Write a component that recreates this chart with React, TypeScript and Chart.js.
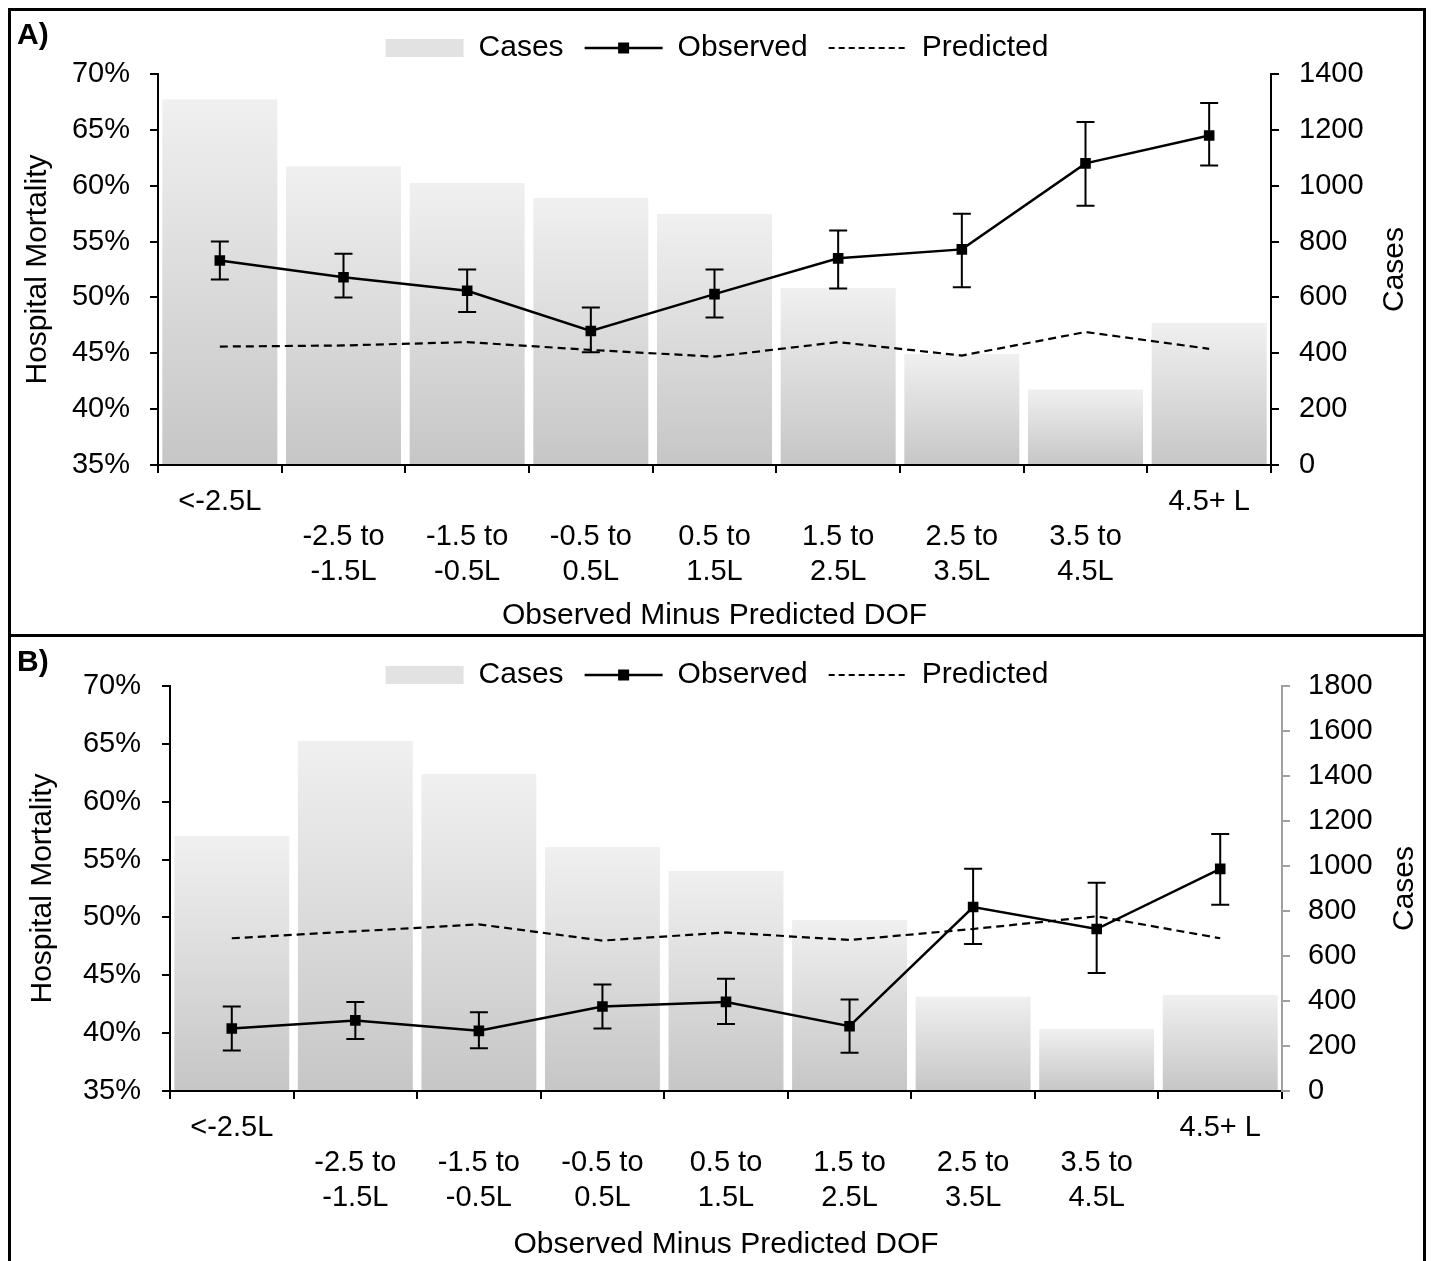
import React, { useEffect, useRef } from "react";
import { Chart, registerables } from "chart.js";

Chart.register(...registerables);

const FONT = '"Liberation Sans", Arial, Helvetica, sans-serif';

// Category labels (3 lines each, Excel-style staggering)
const xLabels: string[][] = [
  ["<-2.5L", "", ""],
  ["", "-2.5 to", "-1.5L"],
  ["", "-1.5 to", "-0.5L"],
  ["", "-0.5 to", "0.5L"],
  ["", "0.5 to", "1.5L"],
  ["", "1.5 to", "2.5L"],
  ["", "2.5 to", "3.5L"],
  ["", "3.5 to", "4.5L"],
  ["4.5+ L", "", ""],
];

// Panel A
const casesA = [1310, 1070, 1010, 956, 899, 634, 397, 270, 508];
const observedA = [53.3, 51.8, 50.6, 47.0, 50.3, 53.5, 54.3, 62.0, 64.5];
const observedLowA = [51.6, 50.0, 48.7, 45.1, 48.2, 50.8, 50.9, 58.2, 61.8];
const observedHighA = [55.0, 53.9, 52.5, 49.1, 52.5, 56.0, 57.5, 65.7, 67.4];
const predictedA = [45.6, 45.7, 46.0, 45.3, 44.7, 46.0, 44.8, 46.9, 45.4];

// Panel B
const casesB = [1133, 1556, 1409, 1084, 978, 760, 419, 276, 427];
const observedB = [40.4, 41.1, 40.2, 42.3, 42.7, 40.6, 50.9, 49.0, 54.2];
const observedLowB = [38.5, 39.5, 38.7, 40.4, 40.8, 38.3, 47.7, 45.2, 51.1];
const observedHighB = [42.3, 42.7, 41.8, 44.2, 44.7, 42.9, 54.2, 53.0, 57.2];
const predictedB = [48.2, 48.8, 49.4, 48.0, 48.7, 48.05, 49.0, 50.1, 48.2];

const mortalityTicks = { min: 35, max: 70, step: 5 };
const casesMaxA = 1400;
const casesMaxB = 1800;
const casesStep = 200;

type PanelProps = {
  letter: string;
  cases: number[];
  observed: number[];
  low: number[];
  high: number[];
  predicted: number[];
  casesMax: number;
  canvasH: number;
  chartTop: number;
  xHeight: number;
  leftW: number;
  rightW: number;
  legendCenter: number;
  yTitlePad: number;
  rightTitleX: number;
  tickPadL: number;
  tickPadR: number;
  rightAxisColor: string;
  letterY: number;
  borderTop: boolean;
};

const CANVAS_W = 1412;
const LEGEND_PAD = 21;
const LEGEND_FONT = 30;

function Panel(p: PanelProps) {
  const ref = useRef<HTMLCanvasElement | null>(null);

  useEffect(() => {
    if (!ref.current) return;
    const legendHeight = LEGEND_FONT + LEGEND_PAD + 10;
    const padTop = p.chartTop - legendHeight;

    const extras = {
      id: "panelExtras",
      afterLayout(chart: any) {
        const l = chart.legend;
        if (!l) return;
        const cur = l.top + LEGEND_PAD + LEGEND_FONT / 2;
        const dy = p.legendCenter - cur;
        l.top += dy;
        l.bottom += dy;
      },
      afterDatasetsDraw(chart: any) {
        const ctx = chart.ctx;
        const meta = chart.getDatasetMeta(1);
        const ys = chart.scales.y;
        ctx.save();
        ctx.strokeStyle = "#000";
        ctx.lineWidth = 2;
        meta.data.forEach((pt: any, i: number) => {
          const x = pt.x;
          const yl = ys.getPixelForValue(p.low[i]);
          const yh = ys.getPixelForValue(p.high[i]);
          ctx.beginPath();
          ctx.moveTo(x, yh);
          ctx.lineTo(x, yl);
          ctx.moveTo(x - 9, yh);
          ctx.lineTo(x + 9, yh);
          ctx.moveTo(x - 9, yl);
          ctx.lineTo(x + 9, yl);
          ctx.stroke();
        });
        ctx.restore();
      },
      afterDraw(chart: any) {
        const ctx = chart.ctx;
        const area = chart.chartArea;
        ctx.save();
        ctx.fillStyle = "#000";
        ctx.font = `bold 30px ${FONT}`;
        ctx.textAlign = "left";
        ctx.textBaseline = "middle";
        ctx.fillText(p.letter, 6, p.letterY);
        // right axis title, rotated like the left one
        ctx.translate(p.rightTitleX, (area.top + area.bottom) / 2);
        ctx.rotate(-Math.PI / 2);
        ctx.textAlign = "center";
        ctx.font = `30px ${FONT}`;
        ctx.fillText("Cases", 0, 0);
        ctx.restore();
        // square marker on the Observed legend line
        const l = chart.legend;
        if (l && l.legendHitBoxes && l.legendHitBoxes[1]) {
          const hb = l.legendHitBoxes[1];
          const cx = hb.left + 39;
          const cy = hb.top + LEGEND_FONT / 2;
          ctx.save();
          ctx.fillStyle = "#000";
          ctx.fillRect(cx - 5.5, cy - 5.5, 11, 11);
          ctx.restore();
        }
      },
    };

    const barFill = (c: any) => {
      const chart = c.chart;
      if (!chart.chartArea || c.type !== "data") return "#dedede";
      const ys = chart.scales.y2;
      const top = ys.getPixelForValue(c.raw);
      const base = ys.getPixelForValue(0);
      if (!isFinite(top) || !isFinite(base) || base - top < 1) return "#dedede";
      const g = chart.ctx.createLinearGradient(0, top, 0, base);
      g.addColorStop(0, "#f0f0f0");
      g.addColorStop(1, "#c6c6c6");
      return g;
    };

    const chart = new Chart(ref.current, {
      type: "bar",
      data: {
        labels: xLabels,
        datasets: [
          {
            type: "bar",
            label: "Cases",
            data: p.cases,
            yAxisID: "y2",
            backgroundColor: barFill,
            borderWidth: 0,
            barPercentage: 0.93,
            categoryPercentage: 1,
            order: 3,
          } as any,
          {
            type: "line",
            label: "Observed",
            data: p.observed,
            yAxisID: "y",
            borderColor: "#000",
            backgroundColor: "#000",
            borderWidth: 2.5,
            pointStyle: "rect",
            pointRadius: 7.5,
            pointBorderWidth: 0,
            tension: 0,
            order: 1,
          },
          {
            type: "line",
            label: "Predicted",
            data: p.predicted,
            yAxisID: "y",
            borderColor: "#000",
            borderWidth: 2.2,
            borderDash: [8, 5],
            pointRadius: 0,
            tension: 0,
            order: 2,
          },
        ],
      },
      options: {
        responsive: false,
        animation: false,
        devicePixelRatio: 1,
        layout: { padding: { top: padTop, left: 0, right: 0, bottom: 0 } },
        font: { family: FONT },
        plugins: {
          tooltip: { enabled: false },
          title: { display: false },
          legend: {
            display: true,
            position: "top",
            labels: {
              usePointStyle: true,
              pointStyleWidth: 78,
              boxHeight: 18,
              padding: LEGEND_PAD,
              color: "#000",
              font: { size: LEGEND_FONT, family: FONT },
              generateLabels: () => [
                {
                  text: "Cases",
                  fillStyle: "#e2e2e2",
                  strokeStyle: "rgba(0,0,0,0)",
                  lineWidth: 0,
                  pointStyle: "rect",
                  datasetIndex: 0,
                  hidden: false,
                  fontColor: "#000",
                } as any,
                {
                  text: "Observed",
                  fillStyle: "#000",
                  strokeStyle: "#000",
                  lineWidth: 2.5,
                  pointStyle: "line",
                  datasetIndex: 1,
                  hidden: false,
                  fontColor: "#000",
                },
                {
                  text: "Predicted",
                  fillStyle: "#000",
                  strokeStyle: "#000",
                  lineWidth: 2,
                  lineDash: [6, 4],
                  pointStyle: "line",
                  datasetIndex: 2,
                  hidden: false,
                  fontColor: "#000",
                },
              ],
            },
          },
        },
        scales: {
          x: {
            type: "category",
            offset: true,
            grid: {
              display: true,
              offset: true,
              drawOnChartArea: false,
              drawTicks: true,
              tickLength: 8,
              color: "#000",
              lineWidth: 2,
            },
            border: { display: true, color: "#000", width: 2 },
            ticks: {
              color: "#000",
              font: { size: 29, family: FONT, lineHeight: 1.22 },
              padding: 11,
              maxRotation: 0,
              minRotation: 0,
              autoSkip: false,
            },
            title: {
              display: true,
              text: "Observed Minus Predicted DOF",
              color: "#000",
              font: { size: 30, family: FONT, lineHeight: 1.2 },
              padding: { top: 0, bottom: 0 },
            },
            afterFit: (s: any) => {
              s.height = p.xHeight;
            },
          },
          y: {
            type: "linear",
            position: "left",
            min: mortalityTicks.min,
            max: mortalityTicks.max,
            grid: {
              display: true,
              drawOnChartArea: false,
              drawTicks: true,
              tickLength: 8,
              color: "#000",
              lineWidth: 2,
            },
            border: { display: true, color: "#000", width: 2 },
            ticks: {
              stepSize: mortalityTicks.step,
              color: "#000",
              font: { size: 29, family: FONT },
              padding: p.tickPadL,
              callback: (v: any) => `${v}%`,
            },
            title: {
              display: true,
              text: "Hospital Mortality",
              color: "#000",
              font: { size: 30, family: FONT, lineHeight: 1.2 },
              padding: { top: p.yTitlePad, bottom: 0 },
            },
            afterFit: (s: any) => {
              s.width = p.leftW;
            },
          },
          y2: {
            type: "linear",
            position: "right",
            min: 0,
            max: p.casesMax,
            grid: {
              display: true,
              drawOnChartArea: false,
              drawTicks: true,
              tickLength: 8,
              color: p.rightAxisColor,
              lineWidth: 2,
            },
            border: { display: true, color: p.rightAxisColor, width: 2 },
            ticks: {
              stepSize: casesStep,
              color: "#000",
              font: { size: 29, family: FONT },
              padding: p.tickPadR,
              callback: (v: any) => String(v),
            },
            title: { display: false },
            afterFit: (s: any) => {
              s.width = p.rightW;
            },
          },
        },
      },
      plugins: [extras as any],
    } as any);
    return () => chart.destroy();
  }, []);

  return (
    <div
      style={{
        position: "relative",
        boxSizing: "border-box",
        width: 1418,
        height: p.canvasH + (p.borderTop ? 6 : 3),
        borderLeft: "3px solid #000",
        borderRight: "3px solid #000",
        borderBottom: "3px solid #000",
        borderTop: p.borderTop ? "3px solid #000" : "none",
      }}
    >
      <canvas
        ref={ref}
        width={CANVAS_W}
        height={p.canvasH}
        style={{ display: "block", width: CANVAS_W, height: p.canvasH }}
      />
    </div>
  );
}

export default function App() {
  return (
    <div style={{ width: 1418, background: "#fff" }}>
      <Panel
        letter="A)"
        cases={casesA}
        observed={observedA}
        low={observedLowA}
        high={observedHighA}
        predicted={predictedA}
        casesMax={casesMaxA}
        canvasH={623}
        chartTop={63}
        xHeight={169}
        leftW={147}
        rightW={152}
        legendCenter={37}
        yTitlePad={8.6}
        rightTitleX={1384}
        tickPadL={20}
        tickPadR={20}
        rightAxisColor="#000"
        letterY={25}
        borderTop={true}
      />
      <Panel
        letter="B)"
        cases={casesB}
        observed={observedB}
        low={observedLowB}
        high={observedHighB}
        predicted={predictedB}
        casesMax={casesMaxB}
        canvasH={626}
        chartTop={49}
        xHeight={172}
        leftW={159}
        rightW={141}
        legendCenter={38}
        yTitlePad={13.6}
        rightTitleX={1394}
        tickPadL={21}
        tickPadR={18}
        rightAxisColor="#a0a0a0"
        letterY={26}
        borderTop={false}
      />
    </div>
  );
}
